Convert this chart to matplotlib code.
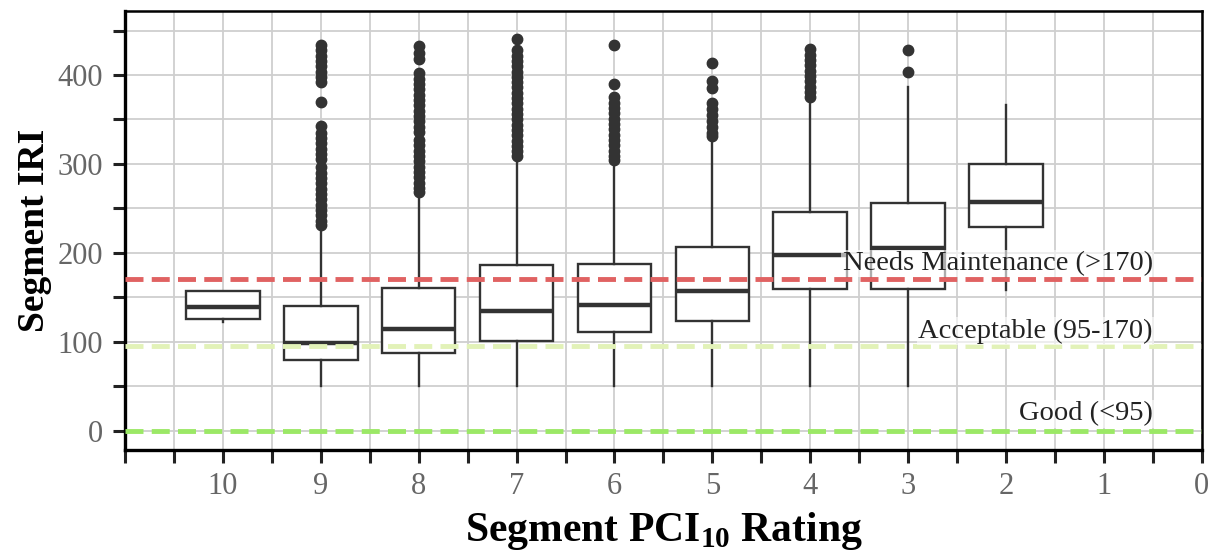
import matplotlib
matplotlib.use('Agg')
import matplotlib.pyplot as plt
from matplotlib.ticker import MultipleLocator

plt.rcParams['font.family'] = ['Liberation Serif', 'DejaVu Serif']
plt.rcParams['mathtext.fontset'] = 'custom'
plt.rcParams['mathtext.rm'] = 'Liberation Serif'
plt.rcParams['mathtext.bf'] = 'Liberation Serif:bold'

# PCI rating of each box and its statistics
ratings = [10, 9, 8, 7, 6, 5, 4, 3, 2]
q1 = [126, 79, 87, 101, 111, 123, 159, 159, 229]
med = [139, 99, 114, 134, 141, 157, 197, 205, 257]
q3 = [157, 140, 160, 186, 187, 206, 246, 256, 300]
whis_lo = [122, 50, 50, 50, 50, 50, 50, 50, 158]
whis_hi = [157, 228, 265, 306, 302, 329, 372, 387, 366]

fliers_10 = []
fliers_9 = [434, 428, 422, 416, 410, 404, 398, 392, 370, 343, 335, 329, 323,
            317, 311, 306, 296, 290, 284, 278, 272, 266, 260, 254, 248, 242,
            236, 231]
fliers_8 = [433, 425, 418, 402, 396, 390, 384, 378, 372, 366, 360, 354, 348,
            342, 336, 327, 321, 315, 309, 303, 297, 291, 285, 279, 273, 268]
fliers_7 = [441, 428, 422, 416, 410, 404, 398, 392, 386, 380, 374, 368, 362,
            356, 350, 344, 338, 332, 326, 320, 314, 309]
fliers_6 = [434, 390, 375, 369, 363, 357, 351, 345, 339, 333, 327, 321, 315,
            309, 304]
fliers_5 = [414, 393, 385, 369, 362, 355, 348, 341, 335, 331]
fliers_4 = [429, 423, 417, 411, 405, 399, 393, 387, 381, 375]
fliers_3 = [428, 404]
fliers_2 = []
fliers = [fliers_10, fliers_9, fliers_8, fliers_7, fliers_6, fliers_5,
          fliers_4, fliers_3, fliers_2]

# condition thresholds
thr_values = [170, 95, 0]
thr_labels = ['Needs Maintenance (>170)', 'Acceptable (95-170)', 'Good (<95)']
thr_label_y = [188, 112, 19]
thr_colors = ['#e06262', '#e2f2b8', '#9be866']

stats = []
for i in range(len(ratings)):
    stats.append(dict(med=med[i], q1=q1[i], q3=q3[i], whislo=whis_lo[i],
                      whishi=whis_hi[i], fliers=fliers[i]))

fig = plt.figure(figsize=(12.15, 5.53), dpi=100)
ax = fig.add_axes([0.103, 0.186, 0.886, 0.794])

ink = '#333333'
ax.bxp(stats, positions=ratings, widths=0.75, patch_artist=True,
       showcaps=False,
       boxprops=dict(facecolor='white', edgecolor=ink, linewidth=1.7),
       whiskerprops=dict(color=ink, linewidth=1.7),
       medianprops=dict(color=ink, linewidth=3.2),
       flierprops=dict(marker='o', markerfacecolor=ink, markeredgecolor=ink,
                       markersize=7.5, linestyle='none'),
       zorder=3)

for v, c in zip(thr_values, thr_colors):
    ax.axhline(v, color=c, linewidth=3.5, dashes=(3.7, 1.7), zorder=4)

for lab, y in zip(thr_labels, thr_label_y):
    ax.text(0.5, y, lab, ha='right', va='center', fontsize=20.5, color='#222222',
            zorder=5,
            bbox=dict(facecolor='white', edgecolor='none', alpha=0.6, pad=1))

ax.set_xlim(11, 0)
ax.set_ylim(-22, 472)
ax.xaxis.set_major_locator(MultipleLocator(1))
ax.xaxis.set_minor_locator(MultipleLocator(0.5))
ax.yaxis.set_major_locator(MultipleLocator(100))
ax.yaxis.set_minor_locator(MultipleLocator(50))
ax.set_xticks(range(0, 11))
ax.set_xticklabels([str(r) for r in range(0, 11)])

ax.grid(which='both', color='#cfcfcf', linewidth=1.3, zorder=0)
ax.set_axisbelow(True)

ax.tick_params(which='both', direction='out', length=9, width=2.2,
               color='#222222', labelsize=22, labelcolor='#666666', pad=7)

for side in ['left', 'bottom']:
    ax.spines[side].set_linewidth(2.4)
for side in ['top', 'right']:
    ax.spines[side].set_linewidth(1.8)

ax.set_xlabel('Segment PCI$_{\\mathbf{10}}$ Rating', fontsize=30,
              fontweight='bold', labelpad=6)
ax.set_ylabel('Segment IRI', fontsize=27, fontweight='bold', labelpad=4)

fig.savefig('out.png', dpi=100)
